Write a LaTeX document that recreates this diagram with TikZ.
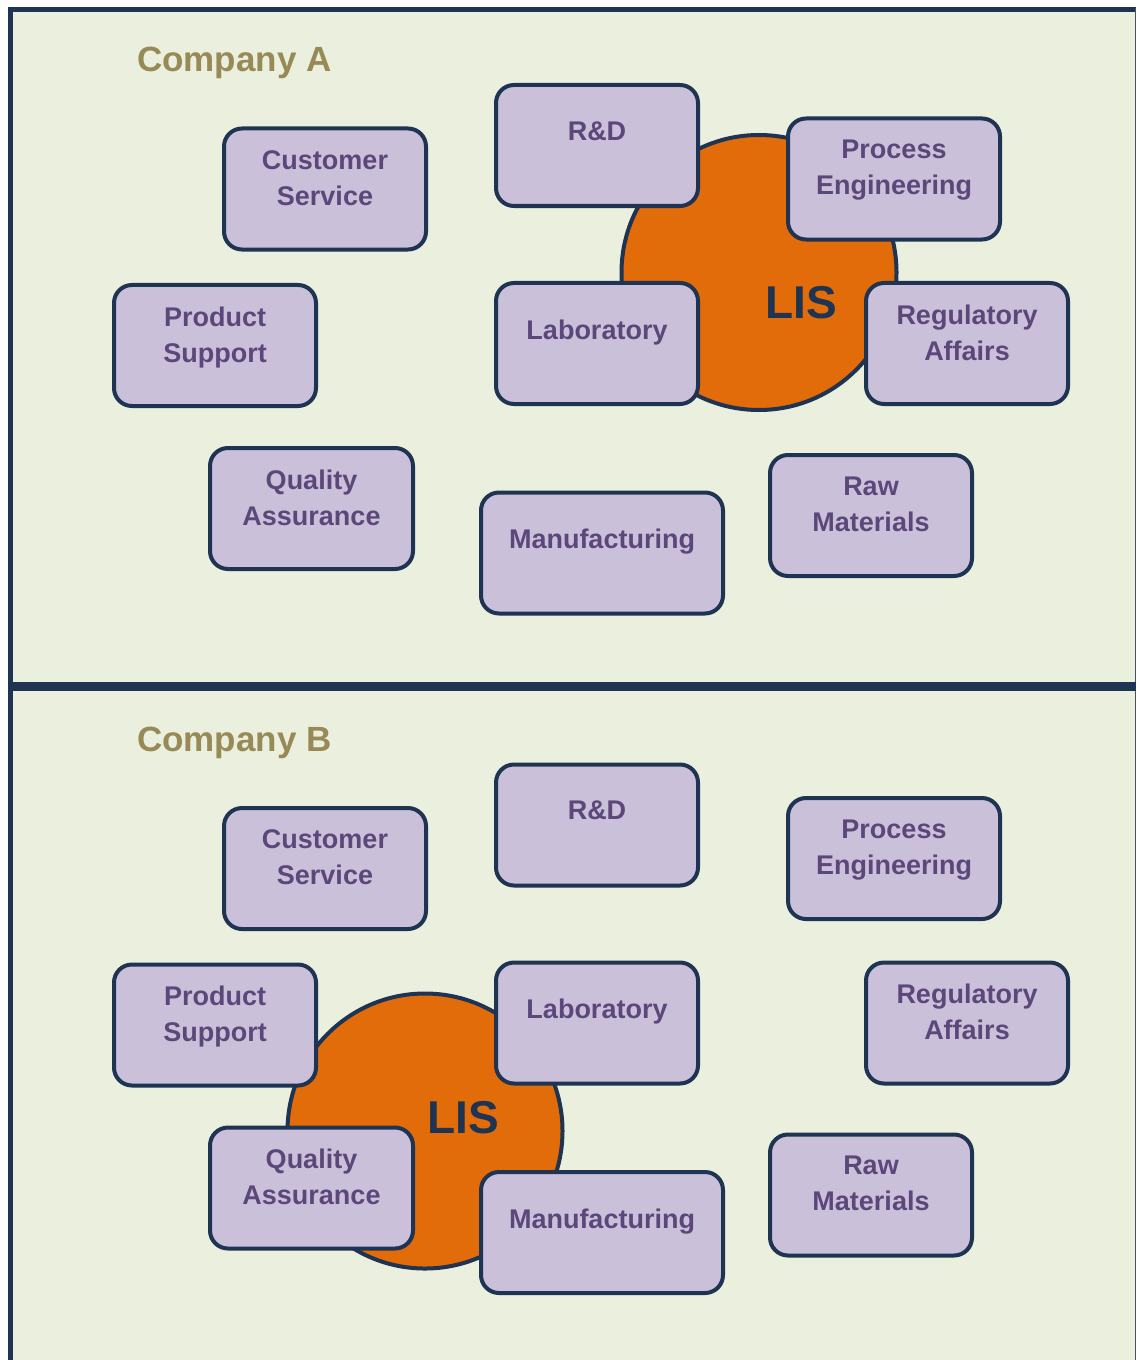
\documentclass[tikz,border=0pt]{standalone}
\usepackage{fontspec}
\setmainfont{Liberation Sans}
\definecolor{panelbg}{HTML}{EAEFDE}
\definecolor{navy}{HTML}{1E3452}
\definecolor{boxfill}{HTML}{CBC0DA}
\definecolor{boxtext}{HTML}{5C477A}
\definecolor{titleol}{HTML}{978A56}
\definecolor{lisorange}{HTML}{E36C0A}
\tikzset{
  dept/.style={draw=navy, line width=4bp, fill=boxfill, rounded corners=18bp,
    minimum height=121bp, inner sep=0pt},
  depttext/.style={text=boxtext, inner sep=0pt, align=center,
    font=\fontsize{27bp}{36bp}\selectfont\bfseries},
  title/.style={text=titleol, inner sep=0pt, anchor=base west,
    font=\fontsize{35bp}{40bp}\selectfont\bfseries},
  lis/.style={circle, draw=navy, line width=4bp, fill=lisorange,
    minimum size=275bp, inner sep=0pt},
  listext/.style={text=navy, inner sep=0pt, anchor=base,
    font=\fontsize{46bp}{50bp}\selectfont\bfseries},
}
% department box: name, centre x, centre y, inner width, text drop, label
\newcommand\deptbox[6]{%
  \node[dept, minimum width=#4bp] (#1) at (#2,#3) {};
  \node[depttext, anchor=north] (#1t) at ([yshift=-#5bp]#1.north) {#6};}
% one company panel; #1 = name suffix
\newcommand\deptset[1]{%
  \deptbox{cs#1}{325}{189}{202}{23.5}{Customer\\Service}
  \deptbox{rd#1}{597}{145.5}{202}{38.5}{R\&D}
  \deptbox{pe#1}{894}{179}{212}{23.5}{Process\\Engineering}
  \deptbox{ps#1}{215}{345.5}{202}{23.5}{Product\\Support}
  \deptbox{lab#1}{597}{343.5}{202}{38.5}{Laboratory}
  \deptbox{ra#1}{967}{343.5}{202}{23.5}{Regulatory\\Affairs}
  \deptbox{qa#1}{311.5}{508.5}{203}{23.5}{Quality\\Assurance}
  \deptbox{mf#1}{602}{553}{242}{38.5}{Manufacturing}
  \deptbox{rm#1}{871}{515.5}{202}{23.5}{Raw\\Materials}}
\begin{document}
\begin{tikzpicture}[x=1bp, y=-1bp]
  \useasboundingbox (0,0) rectangle (1136,1360);
  % frame and panels
  \fill[panelbg] (8,8) rectangle (1136,1360);
  \draw[navy, line width=5bp] (10.8,7) -- (10.8,1360);
  \draw[navy, line width=5bp] (8,9.5) -- (1136,9.5);
  \draw[navy!60!gray, line width=1.5bp] (1135.3,8) -- (1135.3,1360);
  \draw[navy, line width=9.3bp] (8,686.3) -- (1136,686.3);

  % Company A: LIS in the upper right group
  \node[title] (titleA) at (137,72) {Company A};
  \node[lis] (lisA) at (759,272.5) {};
  \node[listext] (lisAt) at (801.5,318) {LIS};
  \deptset{A}

  % Company B: LIS in the lower left group
  \begin{scope}[yshift=-679.5bp]
    \node[title] (titleB) at (137,72) {Company B};
    \node[lis] (lisB) at (425,451.5) {};
    \node[listext] (lisBt) at (463.5,453.5) {LIS};
    \deptset{B}
  \end{scope}
\end{tikzpicture}
\end{document}
